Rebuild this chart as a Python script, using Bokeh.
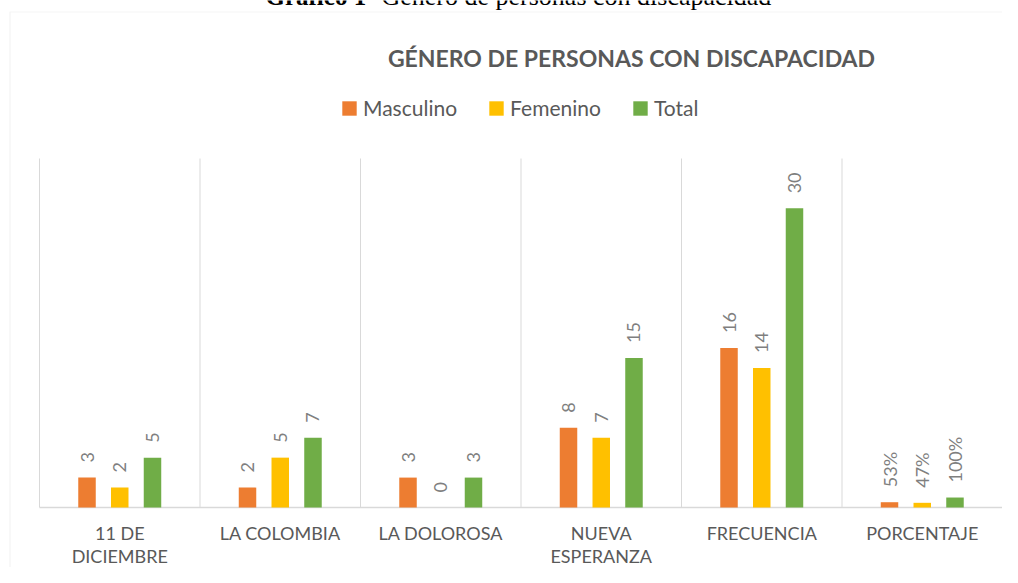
import math
from bokeh.plotting import figure
from bokeh.models import (ColumnDataSource, Range1d, Legend, LegendItem, Label, BoxAnnotation)
from bokeh.transform import dodge
from bokeh.core.properties import value
from bokeh.embed import file_html
from bokeh.resources import INLINE

# ---- data ----
categories = ["11 DE\nDICIEMBRE", "LA COLOMBIA", "LA DOLOROSA", "NUEVA\nESPERANZA",
              "FRECUENCIA", "PORCENTAJE"]
series = ["Masculino", "Femenino", "Total"]
masculino = [3, 2, 3, 8, 16, 0.53]
femenino = [2, 5, 0, 7, 14, 0.47]
total = [5, 7, 3, 15, 30, 1.00]
masculino_labels = ["3", "2", "3", "8", "16", "53%"]
femenino_labels = ["2", "5", "0", "7", "14", "47%"]
total_labels = ["5", "7", "3", "15", "30", "100%"]
colors = ["#ED7D31", "#FFC000", "#70AD47"]
Y_MAX = 35

# ---- layout (canvas pixels) ----
W, H = 1002, 567
PL, PR, PT, PB = 39, 1002, 158, 507   # plot area
N = len(categories)
UX = (PR - PL) / N
UY = (PB - PT) / Y_MAX

def dx(cx):
    return (cx - PL) / UX

def dy(cy):
    return (PB - cy) / UY

p = figure(width=W, height=H, output_backend="svg", toolbar_location=None,
           x_range=Range1d(dx(0), dx(W)), y_range=Range1d(dy(H), dy(0)),
           x_axis_location=None, y_axis_location=None,
           min_border=0, background_fill_color="white", border_fill_color="white")
p.outline_line_color = None
p.grid.visible = False

FONT = "Lato"
GRID = "#D9D9D9"

# chart border
p.add_layout(BoxAnnotation(left=dx(9.5), right=dx(1200), top=dy(11.5), bottom=dy(800),
                           fill_alpha=0, line_color=GRID, line_width=1.2))

# vertical grid lines at category boundaries and the category axis line
bounds = list(range(N + 1))
p.segment(x0=bounds, x1=bounds, y0=[0] * len(bounds), y1=[Y_MAX] * len(bounds),
          line_color=GRID, line_width=1)
p.segment(x0=[0], x1=[N], y0=[0], y1=[0], line_color=GRID, line_width=1.5)

centers = [i + 0.5 for i in range(N)]
src = ColumnDataSource(dict(x=centers, m=masculino, f=femenino, t=total,
                            ml=masculino_labels, fl=femenino_labels, tl=total_labels))

BW = 0.109
OFF = 0.204
renderers = []
for key, lab, off, col in [("m", "ml", -OFF, colors[0]), ("f", "fl", 0, colors[1]),
                           ("t", "tl", OFF, colors[2])]:
    r = p.vbar(x=dodge("x", off), top=key, width=BW, bottom=0, source=src,
               fill_color=col, line_color=None)
    renderers.append(r)
    p.text(x=dodge("x", off), y=key, text=lab, source=src, angle=math.pi / 2,
           text_align="left", text_baseline="middle", y_offset=-15,
           text_font=value(FONT), text_font_size="18px", text_color="#7F7F7F")

# category labels
cat_src = ColumnDataSource(dict(x=centers, y=[0] * N, text=categories))
p.text(x="x", y="y", text="text", source=cat_src, text_align="center",
       text_baseline="top", y_offset=14, text_line_height=1.05,
       text_font=value(FONT), text_font_size="18px", text_color="#595959")

# chart title
p.add_layout(Label(x=dx(631), y=dy(57), text="GÉNERO DE PERSONAS CON DISCAPACIDAD",
                   text_align="center", text_baseline="alphabetic", text_font=FONT,
                   text_font_style="bold", text_font_size="23px", text_color="#595959"))

# document caption (cut off at the top, as in the reference)
p.add_layout(Label(x=dx(265), y=dy(-4), text="Gráfico 1", text_align="left",
                   text_baseline="alphabetic", text_font="Liberation Serif",
                   text_font_style="bold", text_font_size="25px", text_color="black"))
p.add_layout(Label(x=dx(381), y=dy(-4), text="Género de personas con discapacidad",
                   text_align="left", text_baseline="alphabetic", text_font="Liberation Serif",
                   text_font_size="26px", text_color="black"))

# legend
legend = Legend(items=[LegendItem(label=s, renderers=[r]) for s, r in zip(series, renderers)],
                orientation="horizontal", location=(340, H - 120),
                label_text_font=FONT, label_text_font_size="21px", label_text_color="#595959",
                glyph_width=18, glyph_height=18, label_standoff=5, spacing=30,
                padding=0, margin=0, border_line_color=None, background_fill_alpha=0)
p.add_layout(legend, "center")

open("out.html", "w").write(file_html(p, INLINE))
